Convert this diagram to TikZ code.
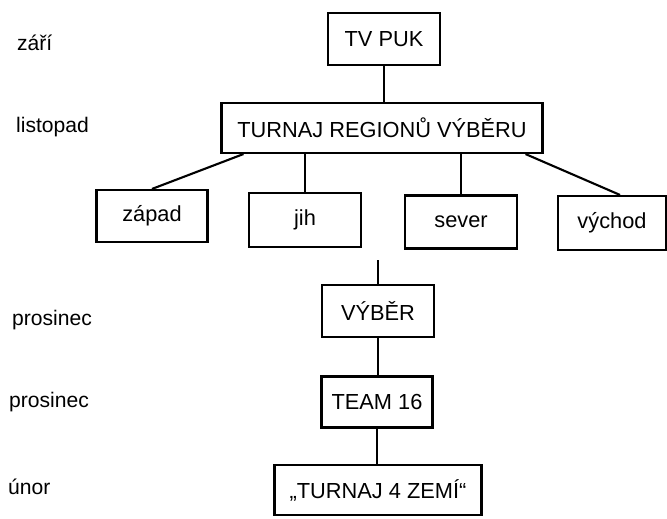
\documentclass[tikz,border=0pt]{standalone}
\usepackage{fontspec}
\setmainfont{Liberation Sans}
\usepackage{tikz}
\usetikzlibrary{positioning,calc}

\begin{document}
\begin{tikzpicture}[
  box/.style={draw=black, line width=3pt, minimum width=5.6cm, minimum height=2.6cm,
              font=\fontsize{31}{37}\selectfont, inner sep=0pt},
  wide/.style={box, minimum width=16.05cm, minimum height=2.5cm},
  month/.style={anchor=base west, font=\fontsize{30}{36}\selectfont, inner sep=0pt},
  link/.style={line width=3pt, color=black}
]
\useasboundingbox (0,0) rectangle (33.35,-25.9);

% Months
\node[month] (m_zari)   at (0.85,-2.55)  {září};
\node[month] (m_listo)  at (0.8,-6.65)   {listopad};
\node[month] (m_pros1)  at (0.6,-16.25)  {prosinec};
\node[month] (m_pros2)  at (0.45,-20.35) {prosinec};
\node[month] (m_unor)   at (0.4,-24.7)   {únor};

% Top
\node[box] (tv_puk)  at (19.2,-1.95) {TV PUK};
\node[wide] (turnaj) at (19.1,-6.4)  {TURNAJ REGIONŮ VÝBĚRU};

% Regions
\node[box, minimum width=5.55cm] (zapad)  at (7.6,-10.8)   {západ};
\node[box, minimum height=2.7cm] (jih)    at (15.25,-11.0) {jih};
\node[box, minimum height=2.65cm] (sever) at (23.05,-11.1) {sever};
\node[box, minimum width=5.4cm, minimum height=2.7cm] (vychod) at (30.6,-11.15) {východ};

% Bottom
\node[box] (vyber)  at (18.9,-15.55) {VÝBĚR};
\node[box, minimum width=5.55cm, minimum height=2.55cm] (team) at (18.85,-20.1) {TEAM 16};
\node[box, minimum width=10.35cm, minimum height=2.5cm] (zemi) at (18.9,-24.5) {„TURNAJ 4 ZEMÍ“};
\coordinate (gap) at (18.9,-13.0);

% Connections
\draw[link] (tv_puk.south) -- (tv_puk.south |- turnaj.north);
\draw[link] ([xshift=1.15cm]turnaj.south west) -- (zapad.north);
\draw[link] (jih.north |- turnaj.south) -- (jih.north);
\draw[link] (sever.north |- turnaj.south) -- (sever.north);
\draw[link] ([xshift=-0.9cm]turnaj.south east) -- ([xshift=0.4cm]vychod.north);
\draw[link] (gap) -- (vyber.north);
\draw[link] (vyber.south) -- (vyber.south |- team.north);
\draw[link] (team.south) -- (team.south |- zemi.north);

\end{tikzpicture}
\end{document}
